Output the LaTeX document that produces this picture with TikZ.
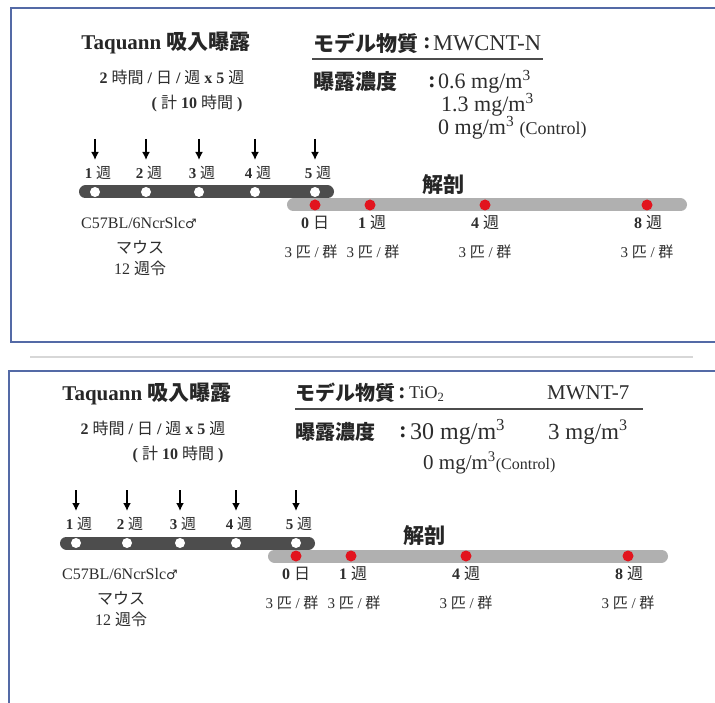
\documentclass[tikz,border=0pt]{standalone}
\usepackage{fontspec}
\setmainfont{Liberation Serif}
\newfontfamily\jp{Noto Sans CJK JP}
\newfontfamily\symf{DejaVu Sans}
\usetikzlibrary{arrows.meta}
\definecolor{boxblue}{RGB}{84,106,166}
\definecolor{darkbar}{RGB}{77,77,77}
\definecolor{lightbar}{RGB}{176,176,176}
\definecolor{dotred}{RGB}{226,20,30}
\definecolor{txt}{RGB}{45,45,45}
\definecolor{sepgray}{RGB}{215,215,215}
\tikzset{
  x=1pt, y=-1pt,
  tl/.style={inner sep=0pt, text=txt},
  titlef/.style={tl, text=black!85, font=\bfseries\fontsize{21}{21}\selectfont},
  subf/.style={tl, font=\bfseries\fontsize{16}{16}\selectfont},
  wklab/.style={tl, font=\bfseries\fontsize{15}{15}\selectfont},
  daylab/.style={tl, font=\bfseries\fontsize{16}{16}\selectfont},
  grplab/.style={tl, font=\fontsize{15}{15}\selectfont},
  mouse/.style={tl, font=\fontsize{16}{16}\selectfont},
  jplbl/.style={tl, anchor=west, text=black!85, font=\jp\bfseries\fontsize{21}{21}\selectfont},
  colonf/.style={tl, text=black!85, font=\bfseries\fontsize{23}{23}\selectfont},
  valf/.style={tl, anchor=west, font=\fontsize{22}{22}\selectfont},
  wdot/.style={circle, fill=white, inner sep=0pt, minimum size=10pt},
  rdot/.style={circle, fill=dotred, inner sep=0pt, minimum size=11pt},
  exparrow/.style={-{Latex[length=8pt,width=8pt]}, line width=2.2pt, black},
  darkline/.style={darkbar, line width=13pt, line cap=round},
  lightline/.style={lightbar, line width=13pt, line cap=round},
  frame/.style={boxblue, line width=2pt},
  uline/.style={black!70, line width=1.5pt},
}
\newcommand\drawTimeline[1]{%
  \node[titlef] (#1title) at (166,43) {Taquann {\jp 吸入曝露}};
  \node[subf] (#1sched) at (172,77) {2 {\jp\mdseries 時間} / {\jp\mdseries 日} / {\jp\mdseries 週} x 5 {\jp\mdseries 週}};
  \node[subf] (#1total) at (197,103) {( {\jp\mdseries 計} 10 {\jp\mdseries 時間} )};
  \coordinate (#1gs) at (293.5,205);
  \coordinate (#1ge) at (680.5,205);
  \draw[lightline] (#1gs) -- (#1ge);
  \coordinate (#1ds) at (85.5,192);
  \coordinate (#1de) at (327.5,192);
  \draw[darkline] (#1ds) -- (#1de);
  \foreach \x/\n in {95/1,146/2,199/3,255/4,315/5}{
    \node[wdot] (#1w\n) at (\x,192) {};
    \node[wklab] (#1wl\n) at (\x+3,173) {\n\ {\jp\mdseries 週}};
    \coordinate (#1ta\n) at (\x,139);
    \coordinate (#1tb\n) at (\x,160);
    \draw[exparrow] (#1ta\n) -- (#1tb\n);
  }
  \node[tl, font=\jp\bfseries\fontsize{21}{21}\selectfont, text=black!85] (#1kaibo) at (443,185) {解剖};
  \foreach \x/\n in {315/0,370/1,485/4,647/8}{
    \node[rdot] (#1r\n) at (\x,205) {};
  }
  \node[daylab] (#1d0) at (315,223) {0 {\jp\mdseries 日}};
  \node[daylab] (#1d1) at (372,223) {1 {\jp\mdseries 週}};
  \node[daylab] (#1d4) at (485,223) {4 {\jp\mdseries 週}};
  \node[daylab] (#1d8) at (648,223) {8 {\jp\mdseries 週}};
  \foreach \x/\n in {311/0,373/1,485/4,647/8}{
    \node[grplab] (#1g\n) at (\x,252) {3 {\jp 匹} / {\jp 群}};
  }
  \node[mouse] (#1strain) at (139,223) {C57BL/6NcrSlc{\symf\fontsize{13}{13}\selectfont ♂}};
  \node[mouse, font=\jp\fontsize{16}{16}\selectfont] (#1mouse) at (140,247) {マウス};
  \node[mouse] (#1age) at (140,268) {12 {\jp 週令}};
}
\begin{document}
\begin{tikzpicture}
\useasboundingbox[fill=white] (0,0) rectangle (715,703);
% frames
\draw[frame] (716,8) -| (11,342) -- (716,342);
\draw[sepgray, line width=1.5pt] (30,357) -- (693,357);
\draw[frame] (716,371) -| (9,704);

% ---- panel 1
\drawTimeline{p}
\node[jplbl] (pmlab) at (313,43) {モデル物質};
\node[colonf] (pmcol) at (427,43) {:};
\node[valf, font=\fontsize{22.5}{22.5}\selectfont] (pmval) at (433,43) {MWCNT-N};
\coordinate (pu1) at (312,59);
\coordinate (pu2) at (543,59);
\draw[uline] (pu1) -- (pu2);
\node[jplbl] (pclab) at (313,82) {曝露濃度};
\node[colonf] (pccol) at (432,82) {:};
\node[valf] (pcv1) at (438,82) {0.6 mg/m\textsuperscript{3}};
\node[valf] (pcv2) at (441,105) {1.3 mg/m\textsuperscript{3}};
\node[valf] (pcv3) at (438,128) {0 mg/m\textsuperscript{3} {\fontsize{18}{18}\selectfont(Control)}};

% ---- panel 2
\begin{scope}[shift={(-19,351)}]
\drawTimeline{q}
\end{scope}
\node[jplbl, font=\jp\bfseries\fontsize{20}{20}\selectfont] (qmlab) at (295,393) {モデル物質};
\node[colonf] (qmcol) at (402,393) {:};
\node[valf, font=\fontsize{18}{18}\selectfont] (qmval) at (409,394) {TiO\textsubscript{2}};
\node[valf, font=\fontsize{21}{21}\selectfont] (qmval2) at (547,393) {MWNT-7};
\coordinate (qu1) at (295,409);
\coordinate (qu2) at (643,409);
\draw[uline] (qu1) -- (qu2);
\node[jplbl, font=\jp\bfseries\fontsize{20}{20}\selectfont] (qclab) at (295,432) {曝露濃度};
\node[colonf] (qccol) at (403,432) {:};
\node[valf, font=\fontsize{24}{24}\selectfont] (qcv1) at (410,432) {30 mg/m\textsuperscript{3}};
\node[valf, font=\fontsize{23}{23}\selectfont] (qcv2) at (548,432) {3 mg/m\textsuperscript{3}};
\node[valf, font=\fontsize{21}{21}\selectfont] (qcv3) at (423,463) {0 mg/m\textsuperscript{3}{\fontsize{16}{16}\selectfont(Control)}};
\end{tikzpicture}
\end{document}
